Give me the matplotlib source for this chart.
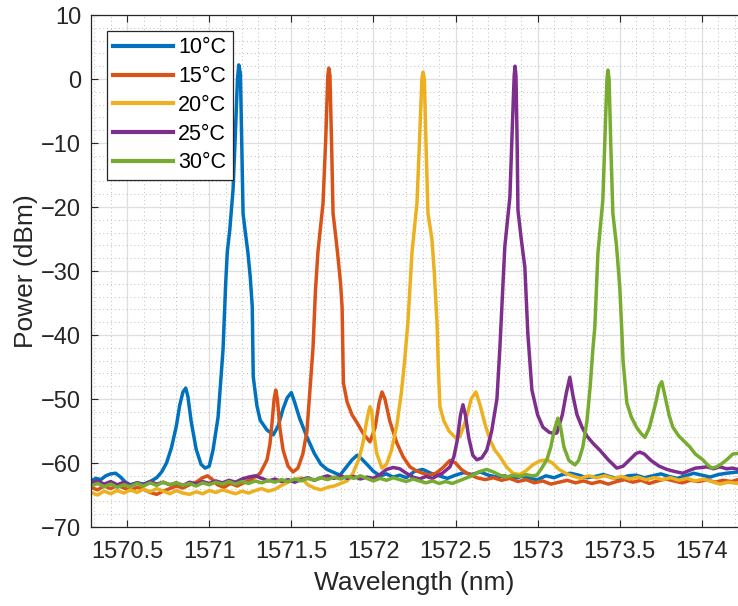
import numpy as np
import matplotlib
matplotlib.use("Agg")
import matplotlib.pyplot as plt
from matplotlib.ticker import MultipleLocator

plt.rcParams['font.family'] = ['Liberation Sans', 'DejaVu Sans']

# Spectra at each temperature: (wavelength nm, power dBm)
spec_10 = [
    (1570.28, -62.8), (1570.31, -62.4), (1570.34, -62.6), (1570.37, -62.0), (1570.40, -61.7),
    (1570.43, -61.6), (1570.46, -62.2), (1570.49, -63.0), (1570.52, -63.4), (1570.56, -63.1),
    (1570.60, -63.3), (1570.64, -62.9), (1570.68, -62.3), (1570.71, -61.4), (1570.74, -60.0),
    (1570.77, -57.6), (1570.80, -54.2), (1570.82, -51.0), (1570.84, -48.9), (1570.857, -48.3),
    (1570.87, -49.6), (1570.89, -53.5), (1570.92, -57.8), (1570.95, -60.2), (1570.975, -60.8),
    (1571.00, -60.5), (1571.023, -58.0), (1571.054, -52.8), (1571.084, -42.3), (1571.10, -32.0),
    (1571.11, -27.0), (1571.125, -23.6), (1571.145, -17.3), (1571.16, -8.0), (1571.172, 0.0),
    (1571.18, 2.2), (1571.19, 0.8), (1571.198, -10.0), (1571.206, -21.0), (1571.22, -24.0),
    (1571.235, -27.0), (1571.25, -31.0), (1571.262, -35.6), (1571.268, -46.5), (1571.29, -51.0),
    (1571.31, -53.3), (1571.35, -54.8), (1571.39, -55.6), (1571.42, -54.2), (1571.45, -51.5),
    (1571.475, -49.8), (1571.50, -49.0), (1571.52, -50.5), (1571.55, -53.0), (1571.596, -56.0),
    (1571.64, -58.5), (1571.68, -60.2), (1571.717, -61.0), (1571.76, -61.5), (1571.796, -61.9),
    (1571.83, -60.8), (1571.87, -59.5), (1571.90, -58.8), (1571.93, -59.4), (1571.96, -60.2),
    (1572.00, -61.3), (1572.04, -62.0), (1572.08, -61.7), (1572.12, -62.2), (1572.16, -61.9),
    (1572.20, -62.3), (1572.25, -61.3), (1572.30, -61.0), (1572.35, -61.6), (1572.40, -62.0),
    (1572.45, -62.4), (1572.50, -61.9), (1572.55, -61.5), (1572.60, -61.8), (1572.65, -61.4),
    (1572.70, -61.9), (1572.75, -62.2), (1572.80, -62.0), (1572.85, -62.5), (1572.90, -62.1),
    (1572.95, -62.4), (1573.00, -62.6), (1573.05, -62.0), (1573.10, -62.3), (1573.15, -61.8),
    (1573.20, -61.6), (1573.25, -61.9), (1573.30, -62.3), (1573.35, -62.1), (1573.40, -61.8),
    (1573.45, -62.2), (1573.50, -62.5), (1573.55, -62.0), (1573.60, -61.9), (1573.65, -62.3),
    (1573.70, -62.0), (1573.75, -61.7), (1573.80, -62.1), (1573.85, -62.4), (1573.90, -62.0),
    (1573.95, -61.6), (1574.00, -61.9), (1574.05, -62.2), (1574.10, -61.8), (1574.15, -61.6),
    (1574.22, -61.4),
]

spec_15 = [
    (1570.28, -63.8), (1570.32, -64.2), (1570.36, -63.6), (1570.40, -64.0), (1570.44, -63.5),
    (1570.48, -63.9), (1570.52, -64.3), (1570.56, -63.8), (1570.60, -64.1), (1570.64, -64.6),
    (1570.68, -64.9), (1570.72, -64.4), (1570.76, -64.0), (1570.80, -63.6), (1570.84, -63.9),
    (1570.88, -63.4), (1570.92, -63.0), (1570.96, -62.3), (1570.99, -62.0), (1571.02, -62.6),
    (1571.05, -63.4), (1571.09, -63.8), (1571.13, -63.2), (1571.17, -63.6), (1571.21, -63.1),
    (1571.25, -62.6), (1571.29, -62.0), (1571.31, -61.6), (1571.33, -60.6), (1571.352, -59.5),
    (1571.37, -57.0), (1571.385, -53.0), (1571.395, -50.0), (1571.405, -48.6), (1571.415, -50.0),
    (1571.43, -54.5), (1571.45, -58.0), (1571.48, -60.5), (1571.51, -61.4), (1571.54, -60.8),
    (1571.57, -58.6), (1571.595, -55.0), (1571.615, -48.0), (1571.632, -42.0), (1571.647, -33.0),
    (1571.662, -27.0), (1571.693, -19.4), (1571.71, -9.0), (1571.722, 0.5), (1571.728, 1.7),
    (1571.735, 0.5), (1571.745, -10.0), (1571.754, -21.0), (1571.77, -24.5), (1571.784, -27.8),
    (1571.80, -32.0), (1571.809, -35.6), (1571.817, -47.5), (1571.84, -50.5), (1571.87, -52.5),
    (1571.90, -53.7), (1571.94, -55.5), (1571.979, -56.7), (1572.01, -54.5), (1572.035, -50.5),
    (1572.052, -48.9), (1572.07, -50.0), (1572.10, -53.5), (1572.143, -56.9), (1572.18, -59.0),
    (1572.222, -60.6), (1572.26, -61.2), (1572.30, -61.6), (1572.34, -61.9), (1572.38, -61.6),
    (1572.42, -60.8), (1572.466, -59.6), (1572.50, -60.0), (1572.535, -61.0), (1572.57, -61.6),
    (1572.63, -62.3), (1572.68, -62.6), (1572.73, -62.3), (1572.78, -62.7), (1572.83, -62.4),
    (1572.88, -62.9), (1572.93, -62.6), (1572.98, -63.1), (1573.03, -62.8), (1573.08, -63.3),
    (1573.13, -63.0), (1573.18, -62.7), (1573.23, -63.1), (1573.28, -62.8), (1573.33, -63.2),
    (1573.38, -62.9), (1573.43, -63.3), (1573.48, -62.9), (1573.53, -62.6), (1573.58, -63.0),
    (1573.63, -62.7), (1573.68, -63.2), (1573.73, -62.8), (1573.78, -62.5), (1573.83, -62.8),
    (1573.88, -63.1), (1573.93, -62.7), (1573.98, -62.9), (1574.03, -62.6), (1574.08, -63.0),
    (1574.13, -62.7), (1574.18, -62.9), (1574.22, -62.6),
]

spec_20 = [
    (1570.28, -64.6), (1570.32, -65.0), (1570.36, -64.4), (1570.40, -64.8), (1570.44, -64.3),
    (1570.48, -64.7), (1570.52, -64.2), (1570.56, -64.6), (1570.60, -64.1), (1570.64, -64.5),
    (1570.68, -64.0), (1570.72, -64.4), (1570.76, -64.8), (1570.80, -64.3), (1570.84, -64.7),
    (1570.88, -64.9), (1570.92, -64.5), (1570.96, -64.8), (1571.00, -64.3), (1571.04, -64.6),
    (1571.08, -64.2), (1571.12, -64.5), (1571.16, -64.8), (1571.20, -64.4), (1571.24, -64.7),
    (1571.28, -64.3), (1571.32, -64.0), (1571.36, -64.4), (1571.40, -64.1), (1571.44, -63.5),
    (1571.48, -63.0), (1571.52, -62.6), (1571.56, -62.3), (1571.60, -63.4), (1571.64, -63.9),
    (1571.68, -64.2), (1571.72, -63.8), (1571.76, -63.6), (1571.80, -63.2), (1571.84, -62.8),
    (1571.875, -61.6), (1571.91, -59.5), (1571.935, -57.0), (1571.955, -54.0), (1571.97, -52.0),
    (1571.979, -51.2), (1571.99, -52.0), (1572.00, -55.0), (1572.02, -58.5), (1572.052, -60.8),
    (1572.08, -60.2), (1572.11, -58.0), (1572.143, -54.0), (1572.17, -49.0), (1572.19, -44.0),
    (1572.21, -38.0), (1572.235, -27.0), (1572.265, -19.4), (1572.28, -10.0), (1572.295, 0.0),
    (1572.302, 1.1), (1572.31, 0.0), (1572.32, -10.0), (1572.332, -21.0), (1572.356, -25.0),
    (1572.37, -30.0), (1572.387, -38.0), (1572.395, -45.0), (1572.405, -51.2), (1572.43, -53.5),
    (1572.46, -55.0), (1572.49, -55.8), (1572.51, -56.2), (1572.527, -55.8), (1572.56, -53.5),
    (1572.595, -50.0), (1572.624, -48.9), (1572.65, -51.0), (1572.68, -54.0), (1572.71, -56.4),
    (1572.74, -58.0), (1572.77, -59.0), (1572.81, -60.6), (1572.849, -61.6), (1572.89, -61.8),
    (1572.93, -61.2), (1572.97, -60.3), (1573.01, -59.7), (1573.056, -59.5), (1573.09, -60.0),
    (1573.13, -61.0), (1573.17, -61.6), (1573.21, -62.0), (1573.26, -62.4), (1573.31, -62.0),
    (1573.36, -62.3), (1573.41, -62.0), (1573.46, -62.4), (1573.51, -62.1), (1573.56, -62.5),
    (1573.61, -62.2), (1573.66, -62.6), (1573.71, -62.3), (1573.76, -62.6), (1573.81, -62.3),
    (1573.86, -62.7), (1573.91, -62.4), (1573.96, -62.8), (1574.01, -62.5), (1574.06, -62.9),
    (1574.11, -63.3), (1574.16, -63.0), (1574.22, -63.2),
]

spec_25 = [
    (1570.28, -63.2), (1570.32, -62.8), (1570.36, -63.3), (1570.40, -62.9), (1570.44, -63.4),
    (1570.48, -63.0), (1570.52, -63.5), (1570.56, -63.1), (1570.60, -63.4), (1570.64, -62.9),
    (1570.68, -63.3), (1570.72, -63.0), (1570.76, -63.4), (1570.80, -63.1), (1570.84, -63.5),
    (1570.88, -63.0), (1570.92, -63.3), (1570.96, -62.9), (1571.00, -63.2), (1571.04, -62.8),
    (1571.08, -63.1), (1571.12, -62.7), (1571.16, -63.0), (1571.20, -62.5), (1571.24, -62.2),
    (1571.28, -62.0), (1571.32, -62.4), (1571.36, -62.8), (1571.40, -62.5), (1571.44, -62.9),
    (1571.48, -62.6), (1571.52, -63.0), (1571.56, -62.6), (1571.60, -62.3), (1571.64, -62.7),
    (1571.68, -62.3), (1571.72, -62.0), (1571.76, -62.4), (1571.80, -62.0), (1571.84, -62.4),
    (1571.88, -62.1), (1571.92, -62.5), (1571.96, -62.2), (1572.00, -62.4), (1572.04, -61.8),
    (1572.08, -61.0), (1572.12, -60.7), (1572.16, -60.9), (1572.20, -61.6), (1572.24, -62.2),
    (1572.28, -62.5), (1572.32, -62.1), (1572.36, -62.4), (1572.387, -62.0), (1572.42, -61.6),
    (1572.466, -60.6), (1572.49, -59.0), (1572.51, -56.5), (1572.53, -52.5), (1572.545, -50.9),
    (1572.56, -52.5), (1572.58, -56.0), (1572.605, -58.8), (1572.63, -59.5), (1572.66, -59.2),
    (1572.69, -58.0), (1572.72, -55.0), (1572.752, -50.0), (1572.77, -42.0), (1572.782, -35.6),
    (1572.80, -26.2), (1572.831, -18.4), (1572.845, -8.0), (1572.857, 0.5), (1572.862, 2.0),
    (1572.868, 0.5), (1572.875, -10.0), (1572.88, -20.5), (1572.90, -25.0), (1572.922, -29.4),
    (1572.94, -39.7), (1572.965, -48.6), (1573.00, -52.5), (1573.032, -54.4), (1573.07, -55.2),
    (1573.10, -55.4), (1573.117, -55.3), (1573.15, -52.5), (1573.175, -49.0), (1573.196, -46.6),
    (1573.215, -49.5), (1573.24, -52.5), (1573.27, -54.4), (1573.30, -55.8), (1573.34, -57.0),
    (1573.379, -58.0), (1573.43, -59.5), (1573.482, -60.8), (1573.52, -60.5), (1573.56, -59.5),
    (1573.60, -58.5), (1573.622, -58.3), (1573.65, -58.6), (1573.69, -59.6), (1573.74, -60.5),
    (1573.787, -61.0), (1573.83, -61.3), (1573.884, -61.6), (1573.92, -61.2), (1573.96, -60.8),
    (1574.00, -60.7), (1574.03, -60.6), (1574.07, -60.9), (1574.11, -60.6), (1574.15, -60.9),
    (1574.188, -60.8), (1574.22, -61.0),
]

spec_30 = [
    (1570.28, -63.6), (1570.32, -63.2), (1570.36, -63.7), (1570.40, -63.3), (1570.44, -63.8),
    (1570.48, -63.4), (1570.52, -63.7), (1570.56, -63.2), (1570.60, -63.6), (1570.64, -63.1),
    (1570.68, -63.5), (1570.72, -63.0), (1570.76, -63.4), (1570.80, -63.1), (1570.84, -63.5),
    (1570.88, -63.2), (1570.92, -63.6), (1570.96, -63.1), (1571.00, -63.4), (1571.04, -63.0),
    (1571.08, -63.3), (1571.12, -62.9), (1571.16, -63.3), (1571.20, -62.9), (1571.24, -63.2),
    (1571.28, -62.8), (1571.32, -63.1), (1571.36, -62.7), (1571.40, -63.0), (1571.44, -62.6),
    (1571.48, -62.9), (1571.52, -62.5), (1571.56, -62.8), (1571.60, -62.4), (1571.64, -62.7),
    (1571.68, -62.3), (1571.72, -62.6), (1571.76, -62.2), (1571.80, -62.5), (1571.84, -62.1),
    (1571.88, -62.4), (1571.92, -62.0), (1571.96, -62.4), (1572.00, -62.8), (1572.04, -62.4),
    (1572.08, -62.7), (1572.12, -62.3), (1572.16, -62.6), (1572.20, -62.9), (1572.24, -62.5),
    (1572.28, -62.8), (1572.32, -63.1), (1572.36, -62.8), (1572.40, -63.2), (1572.44, -62.9),
    (1572.48, -63.2), (1572.52, -62.8), (1572.56, -62.4), (1572.60, -62.0), (1572.64, -61.4),
    (1572.69, -61.0), (1572.73, -61.4), (1572.77, -61.9), (1572.81, -62.2), (1572.85, -61.9),
    (1572.89, -62.1), (1572.93, -61.8), (1572.965, -62.0), (1572.995, -61.9), (1573.02, -61.0),
    (1573.056, -59.5), (1573.08, -57.5), (1573.10, -55.0), (1573.123, -53.0), (1573.14, -54.5),
    (1573.16, -57.5), (1573.19, -59.6), (1573.227, -60.3), (1573.25, -59.6), (1573.275, -57.5),
    (1573.30, -53.5), (1573.32, -48.0), (1573.336, -42.3), (1573.348, -38.8), (1573.367, -27.2),
    (1573.397, -18.9), (1573.41, -9.0), (1573.422, 0.0), (1573.428, 1.4), (1573.435, 0.0),
    (1573.445, -10.0), (1573.458, -21.0), (1573.48, -26.0), (1573.50, -32.5), (1573.513, -39.7),
    (1573.52, -44.0), (1573.543, -50.6), (1573.57, -52.8), (1573.604, -54.5), (1573.63, -55.4),
    (1573.653, -56.0), (1573.68, -54.5), (1573.72, -50.5), (1573.74, -48.0), (1573.756, -47.3),
    (1573.775, -49.5), (1573.80, -52.5), (1573.823, -54.4), (1573.86, -55.8), (1573.90, -56.8),
    (1573.927, -57.5), (1573.96, -58.6), (1574.006, -59.5), (1574.035, -60.3), (1574.06, -60.8),
    (1574.09, -60.6), (1574.127, -60.0), (1574.16, -59.3), (1574.188, -58.6), (1574.22, -58.5),
]

labels = ['10°C', '15°C', '20°C', '25°C', '30°C']
spectra = [spec_10, spec_15, spec_20, spec_25, spec_30]
colors = ['#0072BD', '#D95319', '#EDB120', '#7E2F8E', '#77AC30']

text_col = '#262626'

fig = plt.figure(figsize=(7.38, 6.06), dpi=100)
ax = fig.add_axes([91 / 738, 79 / 606, 647 / 738, 512 / 606])

for spec, lab, col in zip(spectra, labels, colors):
    arr = np.array(spec)
    ax.plot(arr[:, 0], arr[:, 1], color=col, lw=2.5, label=lab, solid_joinstyle='round')

ax.set_xlim(1570.28, 1574.22)
ax.set_ylim(-70, 10)
ax.set_xticks([1570.5, 1571, 1571.5, 1572, 1572.5, 1573, 1573.5, 1574])
ax.set_xticklabels(['1570.5', '1571', '1571.5', '1572', '1572.5', '1573', '1573.5', '1574'])
ax.set_yticks(np.arange(-70, 11, 10))
ax.xaxis.set_minor_locator(MultipleLocator(0.1))
ax.yaxis.set_minor_locator(MultipleLocator(2))

ax.grid(which='major', color='#dedede', lw=0.9, ls='-')
ax.grid(which='minor', color='#bdbdbd', lw=0.7, ls=(0, (1, 3)))
ax.set_axisbelow(True)

ax.tick_params(which='major', direction='in', length=5, width=0.8, colors=text_col,
               labelsize=17, top=True, right=False)
ax.tick_params(axis='x', pad=10)
ax.tick_params(axis='y', pad=7)
ax.tick_params(which='minor', length=0)
for side in ['left', 'bottom', 'top']:
    ax.spines[side].set_color(text_col)
    ax.spines[side].set_linewidth(0.9)
ax.spines['right'].set_visible(False)

ax.set_xlabel('Wavelength (nm)', fontsize=19, color=text_col, labelpad=6)
ax.set_ylabel('Power (dBm)', fontsize=19, color=text_col, labelpad=2)

leg = ax.legend(loc='upper left', bbox_to_anchor=(16 / 647, 1 - 16 / 512), borderaxespad=0,
                fontsize=15.5, fancybox=False, framealpha=1, edgecolor=text_col,
                handlelength=2.75, handletextpad=0.25, labelspacing=0.36, borderpad=0.3)
leg.get_frame().set_linewidth(0.9)
for line in leg.get_lines():
    line.set_linewidth(3)

fig.savefig('out.png', dpi=100)
